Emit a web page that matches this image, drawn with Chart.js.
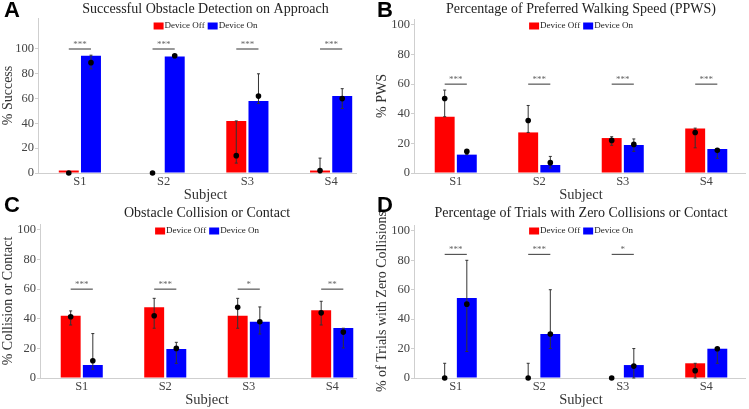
<!DOCTYPE html>
<html>
<head>
<meta charset="utf-8">
<script src="https://cdn.jsdelivr.net/npm/chart.js@4"></script>
<style>
  body { margin: 0; background: #fff; }
  #wrap { position: relative; width: 749px; height: 409px; overflow: hidden; }
  canvas { position: absolute; }
  .tag { position: absolute; font: bold 22px "Liberation Sans", Arial, sans-serif; line-height: 22px; color: #000; }
</style>
</head>
<body>
<div id="wrap">
  <canvas id="cA" width="374" height="204" style="left:0;top:0"></canvas>
  <canvas id="cB" width="375" height="204" style="left:374px;top:0"></canvas>
  <canvas id="cC" width="374" height="205" style="left:0;top:204px"></canvas>
  <canvas id="cD" width="375" height="205" style="left:374px;top:204px"></canvas>
  <div class="tag" style="left:4px;top:-1px">A</div>
  <div class="tag" style="left:377px;top:-1px">B</div>
  <div class="tag" style="left:4px;top:194px">C</div>
  <div class="tag" style="left:377px;top:194px">D</div>
</div>
<script>
// categories
const subjects = ['S1', 'S2', 'S3', 'S4'];
const seriesNames = ['Device Off', 'Device On'];
const yTicks = [0, 20, 40, 60, 80, 100];

// A - obstacle detection
const aOff = [2, 0, 42, 2];
const aOn = [94.5, 94, 58, 62];
const aOffMean = [0, 0, 14, 2];
const aOnMean = [89, 94.5, 62, 60];
const aOffErr = [null, null, [8, 42], [0, 12]];
const aOnErr = [[84, 95], [93, 95.5], [56, 80], [52, 68]];
const aStars = ['***', '***', '***', '***'];

// B - preferred walking speed
const bOff = [38, 27.4, 23.6, 30];
const bOn = [12.4, 5.4, 18.9, 16.2];
const bOffMean = [50.3, 35.5, 22, 27.4];
const bOnMean = [14.6, 7, 19.3, 15.3];
const bOffErr = [[38, 56], [27.4, 45.6], [18.7, 24.5], [17, 30.3]];
const bOnErr = [[12.4, 15.3], [3.4, 11.2], [14.6, 23], [9.9, 16.4]];
const bStars = ['***', '***', '***', '***'];

// C - collision or contact
const cOff = [42, 47.7, 42, 45.7];
const cOn = [8.8, 19.6, 38, 33.8];
const cOffMean = [41.4, 42, 47.7, 44];
const cOnMean = [11.7, 20, 38, 31];
const cOffErr = [[35.8, 45.3], [33.6, 53.8], [33.6, 53.8], [35.8, 51.8]];
const cOnErr = [[5.9, 30], [9.9, 24.1], [29.7, 48], [20.3, 33.6]];
const cStars = ['***', '***', '*', '**'];

// D - zero collision trials
const dOff = [0, 0, 0, 10];
const dOn = [54.3, 29.9, 8.8, 19.9];
const dOffMean = [0, 0, 0, 5];
const dOnMean = [50.2, 29.9, 8.1, 19.9];
const dOffErr = [[0, 10], [0, 10], null, [0, 10]];
const dOnErr = [[18, 80], [20, 60], [0, 20], [10, 20]];
const dStars = ['***', '***', '*', ''];

const serif = '"Liberation Serif", "Times New Roman", serif';
const RED = 'rgb(255,0,0)';
const BLUE = 'rgb(0,0,255)';

// draws title, legend, y title, error bars, means and significance marks
const extras = {
  id: 'extras',
  afterDatasetsDraw(chart) {
    const o = chart.options.plugins.extras;
    const ctx = chart.ctx;
    const y = chart.scales.y;
    const area = chart.chartArea;
    ctx.save();

    // x axis line (stops short like the original)
    ctx.strokeStyle = '#cfcfcf';
    ctx.lineWidth = 1;
    ctx.beginPath();
    ctx.moveTo(area.left, Math.round(area.bottom) + 0.5);
    ctx.lineTo(o.xEnd, Math.round(area.bottom) + 0.5);
    ctx.stroke();

    [0, 1].forEach(d => {
      const bars = chart.getDatasetMeta(d).data;
      const err = o.err[d], mean = o.mean[d];
      bars.forEach((b, i) => {
        const e = err[i];
        if (e) {
          ctx.strokeStyle = '#333';
          ctx.lineWidth = 1;
          const y0 = y.getPixelForValue(e[0]), y1 = y.getPixelForValue(e[1]);
          ctx.beginPath();
          ctx.moveTo(b.x, y0); ctx.lineTo(b.x, y1);
          ctx.moveTo(b.x - 1.5, y1); ctx.lineTo(b.x + 1.5, y1);
          ctx.moveTo(b.x - 1.5, y0); ctx.lineTo(b.x + 1.5, y0);
          ctx.stroke();
        }
        ctx.fillStyle = '#000';
        ctx.beginPath();
        ctx.arc(b.x, y.getPixelForValue(mean[i]), 2.8, 0, Math.PI * 2);
        ctx.fill();
      });
    });

    // significance brackets
    const r = chart.getDatasetMeta(0).data, bl = chart.getDatasetMeta(1).data;
    const ly = y.getPixelForValue(o.sigLevel);
    o.stars.forEach((s, i) => {
      if (!s) return;
      ctx.strokeStyle = '#555';
      ctx.lineWidth = 1.2;
      ctx.beginPath();
      ctx.moveTo(r[i].x, ly); ctx.lineTo(bl[i].x, ly);
      ctx.stroke();
      ctx.fillStyle = '#666';
      ctx.font = '9px ' + serif;
      ctx.textAlign = 'center';
      ctx.textBaseline = 'alphabetic';
      ctx.fillText(s, (r[i].x + bl[i].x) / 2, ly - 2);
    });

    // y axis title
    ctx.save();
    ctx.translate(8, (area.top + area.bottom) / 2);
    ctx.rotate(-Math.PI / 2);
    ctx.fillStyle = '#333';
    ctx.font = '14px ' + serif;
    ctx.textAlign = 'center';
    ctx.textBaseline = 'middle';
    ctx.fillText(o.yTitle, 0, 0);
    ctx.restore();

    // title
    const cx = (area.left + area.right) / 2;
    ctx.fillStyle = '#222';
    ctx.font = '14px ' + serif;
    ctx.textAlign = 'center';
    ctx.textBaseline = 'middle';
    ctx.fillText(o.title, cx, o.titleY);

    // legend
    ctx.font = '9px ' + serif;
    const w0 = ctx.measureText(seriesNames[0]).width;
    const w1 = ctx.measureText(seriesNames[1]).width;
    const total = 10 + 1 + w0 + 3 + 10 + 1 + w1;
    let lx = cx - total / 2;
    const ly2 = o.legendY;
    ctx.textAlign = 'left';
    ctx.fillStyle = RED;
    ctx.fillRect(lx, ly2 - 3.5, 10, 7);
    ctx.fillStyle = '#222';
    ctx.fillText(seriesNames[0], lx + 11, ly2);
    lx += 11 + w0 + 3;
    ctx.fillStyle = BLUE;
    ctx.fillRect(lx, ly2 - 3.5, 10, 7);
    ctx.fillStyle = '#222';
    ctx.fillText(seriesNames[1], lx + 11, ly2);
    ctx.restore();
  }
};

function makePanel(id, p) {
  new Chart(document.getElementById(id), {
    type: 'bar',
    data: {
      labels: subjects,
      datasets: [
        { label: seriesNames[0], data: p.off, backgroundColor: RED, borderWidth: 0 },
        { label: seriesNames[1], data: p.on, backgroundColor: BLUE, borderWidth: 0 }
      ]
    },
    plugins: [extras],
    options: {
      responsive: false,
      animation: false,
      datasets: { bar: { categoryPercentage: 0.53, barPercentage: 0.9 } },
      layout: { padding: { top: p.top, left: 0, right: p.right, bottom: 0 } },
      plugins: {
        legend: { display: false },
        title: { display: false },
        tooltip: { enabled: false },
        extras: {
          title: p.title, titleY: p.titleY, legendY: p.legendY, xEnd: p.xEnd, yTitle: p.yTitle,
          err: [p.offErr, p.onErr], mean: [p.offMean, p.onMean],
          stars: p.stars, sigLevel: p.sigLevel
        }
      },
      scales: {
        x: {
          grid: { display: false, drawTicks: false },
          border: { display: false },
          ticks: { font: { family: serif, size: 12.5 }, color: '#444', padding: 1.5 },
          title: { display: true, text: 'Subject', font: { family: serif, size: 14.5 }, color: '#333', padding: { top: 0, bottom: 0 } },
          afterFit: s => { s.height = p.xH; }
        },
        y: {
          min: 0, max: p.max,
          grid: { drawOnChartArea: false, drawTicks: true, tickLength: 3, color: '#cfcfcf' },
          border: { color: '#cfcfcf' },
          ticks: { stepSize: 20, includeBounds: false, padding: 1, font: { family: serif, size: 12.5 }, color: '#444' },
          afterBuildTicks: s => { s.ticks = yTicks.map(v => ({ value: v })); },
          afterFit: s => { s.width = p.yW; }
        }
      }
    }
  });
}

makePanel('cA', {
  off: aOff, on: aOn, offMean: aOffMean, onMean: aOnMean, offErr: aOffErr, onErr: aOnErr,
  stars: aStars, sigLevel: 100, max: 125, top: 18, right: 1, yW: 38, xH: 31, xEnd: 357,
  title: 'Successful Obstacle Detection on Approach', titleY: 9, legendY: 26, yTitle: '% Success'
});
makePanel('cB', {
  off: bOff, on: bOn, offMean: bOffMean, onMean: bOnMean, offErr: bOffErr, onErr: bOnErr,
  stars: bStars, sigLevel: 60, max: 104, top: 19, right: 1, yW: 40, xH: 31, xEnd: 372,
  title: 'Percentage of Preferred Walking Speed (PPWS)', titleY: 9, legendY: 26, yTitle: '% PWS'
});
makePanel('cC', {
  off: cOff, on: cOn, offMean: cOffMean, onMean: cOnMean, offErr: cOffErr, onErr: cOnErr,
  stars: cStars, sigLevel: 60, max: 104, top: 20, right: 0, yW: 40, xH: 31, xEnd: 357,
  title: 'Obstacle Collision or Contact', titleY: 9, legendY: 27, yTitle: '% Collision or Contact'
});
makePanel('cD', {
  off: dOff, on: dOn, offMean: dOffMean, onMean: dOnMean, offErr: dOffErr, onErr: dOnErr,
  stars: dStars, sigLevel: 84, max: 104, top: 21, right: 1, yW: 40, xH: 31, xEnd: 372,
  title: 'Percentage of Trials with Zero Collisions or Contact', titleY: 9, legendY: 27, yTitle: '% of Trials with Zero Collisions'
});
</script>
</body>
</html>
